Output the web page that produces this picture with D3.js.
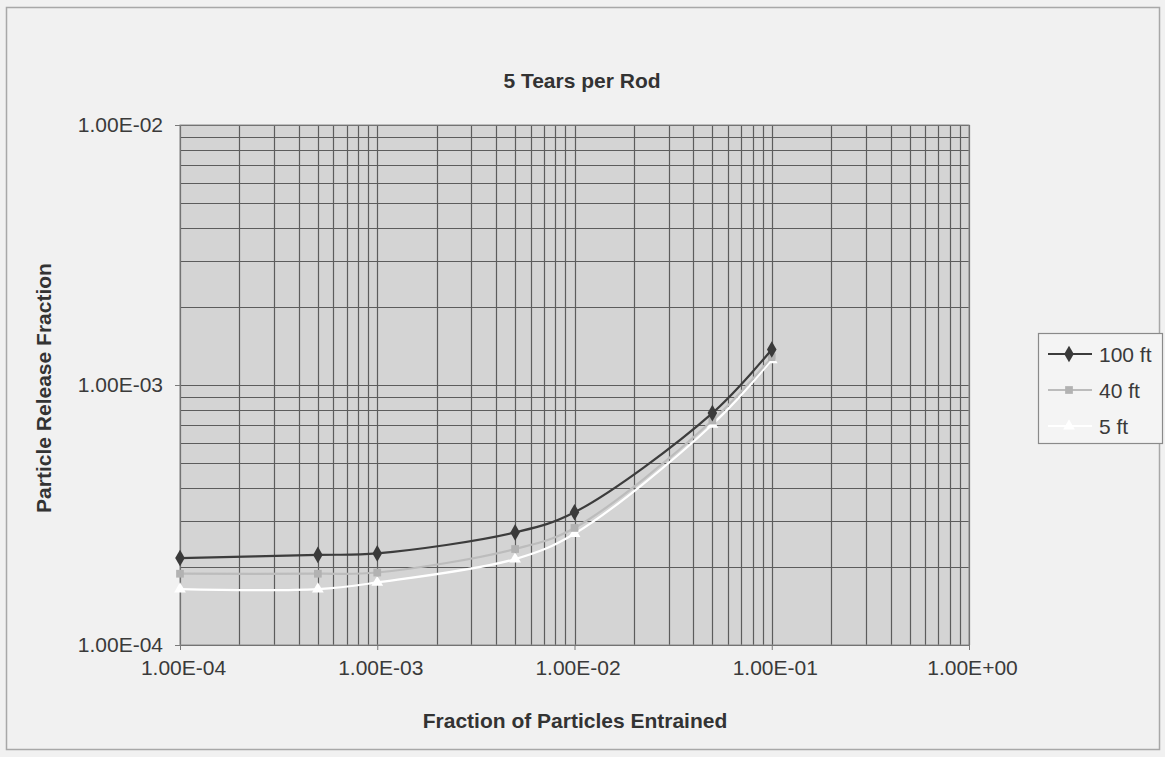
<!DOCTYPE html>
<html><head><meta charset="utf-8">
<script src="https://cdn.jsdelivr.net/npm/d3@7"></script>
<style>
html,body{margin:0;padding:0;background:#f1f1f1;}
svg{display:block;font-family:"Liberation Sans",Arial,sans-serif;}
</style></head>
<body><svg id="c" width="1165" height="757"></svg>
<script>
const xValues = [1e-4, 5e-4, 1e-3, 5e-3, 1e-2, 5e-2, 1e-1];
const series100 = [2.16e-4, 2.22e-4, 2.25e-4, 2.71e-4, 3.24e-4, 7.8e-4, 1.37e-3];
const series40  = [1.88e-4, 1.88e-4, 1.90e-4, 2.34e-4, 2.82e-4, 7.3e-4, 1.28e-3];
const series5   = [1.64e-4, 1.64e-4, 1.74e-4, 2.14e-4, 2.68e-4, 7.05e-4, 1.25e-3];
const seriesNames = ["100 ft", "40 ft", "5 ft"];
const xTickValues = [1e-4, 1e-3, 1e-2, 1e-1, 1];
const xTickLabels = ["1.00E-04", "1.00E-03", "1.00E-02", "1.00E-01", "1.00E+00"];
const yTickValues = [1e-4, 1e-3, 1e-2];
const yTickLabels = ["1.00E-04", "1.00E-03", "1.00E-02"];
const titleText = "5 Tears per Rod";
const xTitle = "Fraction of Particles Entrained";
const yTitle = "Particle Release Fraction";

const svg = d3.select("#c");
const L = 180, R = 969, T = 125, B = 645;
const x = d3.scaleLog().domain([1e-4, 1]).range([L, R]);
const y = d3.scaleLog().domain([1e-4, 1e-2]).range([B, T]);

// outer frame
svg.append("rect").attr("x", 0).attr("y", 0).attr("width", 1165).attr("height", 757).attr("fill", "#f1f1f1");
svg.append("rect").attr("x", 6.5).attr("y", 7.5).attr("width", 1153).attr("height", 742)
  .attr("fill", "none").attr("stroke", "#a8a8a8").attr("stroke-width", 1.5);

// plot area
svg.append("rect").attr("x", L).attr("y", T).attr("width", R - L).attr("height", B - T)
  .attr("fill", "#d4d4d4");

// grid lines
const minorX = [], minorY = [];
for (let e = -4; e < 0; e++) for (let k = 1; k <= 9; k++) minorX.push(k * Math.pow(10, e));
minorX.push(1);
for (let e = -4; e < -2; e++) for (let k = 1; k <= 9; k++) minorY.push(k * Math.pow(10, e));
minorY.push(1e-2);
const g = svg.append("g");
g.selectAll("line.vx").data(minorX).join("line")
  .attr("x1", d => Math.round(x(d)) + 0.5).attr("x2", d => Math.round(x(d)) + 0.5)
  .attr("y1", T).attr("y2", B).attr("stroke", "#5c5c5c").attr("stroke-width", 1.2);
g.selectAll("line.hy").data(minorY).join("line")
  .attr("y1", d => Math.round(y(d)) + 0.5).attr("y2", d => Math.round(y(d)) + 0.5)
  .attr("x1", L).attr("x2", R).attr("stroke", "#5c5c5c").attr("stroke-width", 1.2);

svg.append("rect").attr("x", L).attr("y", T).attr("width", R - L).attr("height", B - T)
  .attr("fill", "none").attr("stroke", "#8a8a8a").attr("stroke-width", 1);

// axes labels via d3 axes
const xAxis = d3.axisBottom(x).tickValues(xTickValues).tickSize(5)
  .tickFormat((d, i) => xTickLabels[i]);
const gx = svg.append("g").attr("transform", `translate(0,${B})`).call(xAxis);
gx.select(".domain").remove();
gx.selectAll(".tick line").attr("stroke", "#7a7a7a");
gx.selectAll(".tick text").attr("font-size", 21).attr("fill", "#3a3a3a")
  .attr("font-family", "Liberation Sans, Arial, sans-serif").attr("dy", "1.05em").attr("dx", 3);

const yAxis = d3.axisLeft(y).tickValues(yTickValues).tickSize(5)
  .tickFormat((d, i) => yTickLabels[i]);
const gy = svg.append("g").attr("transform", `translate(${L},0)`).call(yAxis);
gy.select(".domain").remove();
gy.selectAll(".tick line").attr("stroke", "#7a7a7a");
gy.selectAll(".tick text").attr("font-size", 21).attr("fill", "#3a3a3a")
  .attr("font-family", "Liberation Sans, Arial, sans-serif").attr("x", -17);

// titles
svg.append("text").attr("x", 582).attr("y", 88).attr("text-anchor", "middle")
  .attr("font-size", 21).attr("font-weight", "bold").attr("fill", "#333").text(titleText);
svg.append("text").attr("x", 575).attr("y", 728).attr("text-anchor", "middle")
  .attr("font-size", 21).attr("font-weight", "bold").attr("fill", "#333").text(xTitle);
svg.append("text").attr("transform", "translate(51,388) rotate(-90)").attr("text-anchor", "middle")
  .attr("font-size", 21).attr("font-weight", "bold").attr("fill", "#333").text(yTitle);

// series
const line = d3.line().x(d => x(d[0])).y(d => y(d[1])).curve(d3.curveCatmullRom.alpha(0.5));
const sdefs = [
  {name: seriesNames[2], vals: series5, color: "#ffffff", sym: d3.symbolTriangle, size: 60, mfill: "#ffffff"},
  {name: seriesNames[1], vals: series40, color: "#bcbcbc", sym: d3.symbolSquare, size: 60, mfill: "#b2b2b2"},
  {name: seriesNames[0], vals: series100, color: "#3c3c3c", sym: d3.symbolDiamond, size: 80, mfill: "#3a3a3a"}
];
sdefs.forEach(s => {
  const pts = xValues.map((v, i) => [v, s.vals[i]]);
  svg.append("path").datum(pts).attr("d", line).attr("fill", "none")
    .attr("stroke", s.color).attr("stroke-width", 2.2);
  svg.selectAll(null).data(pts).join("path")
    .attr("transform", d => `translate(${x(d[0])},${y(d[1])})`)
    .attr("d", d3.symbol().type(s.sym).size(s.size)).attr("fill", s.mfill);
});

// legend
const lg = svg.append("g");
lg.append("rect").attr("x", 1038.5).attr("y", 333.5).attr("width", 124).attr("height", 110)
  .attr("fill", "#f4f4f4").attr("stroke", "#8a8a8a").attr("stroke-width", 1.2);
const legendOrder = [sdefs[2], sdefs[1], sdefs[0]];
const legY = d3.scalePoint().domain(seriesNames).range([354, 426]);
legendOrder.forEach(s => {
  const yy = legY(s.name);
  lg.append("line").attr("x1", 1048).attr("x2", 1092).attr("y1", yy).attr("y2", yy)
    .attr("stroke", s.color).attr("stroke-width", 2);
  lg.append("path").attr("transform", `translate(1069,${yy})`)
    .attr("d", d3.symbol().type(s.sym).size(s.size)).attr("fill", s.mfill);
  lg.append("text").attr("x", 1099).attr("y", yy + 8).attr("font-size", 21)
    .attr("fill", "#3a3a3a").text(s.name);
});
</script></body></html>
